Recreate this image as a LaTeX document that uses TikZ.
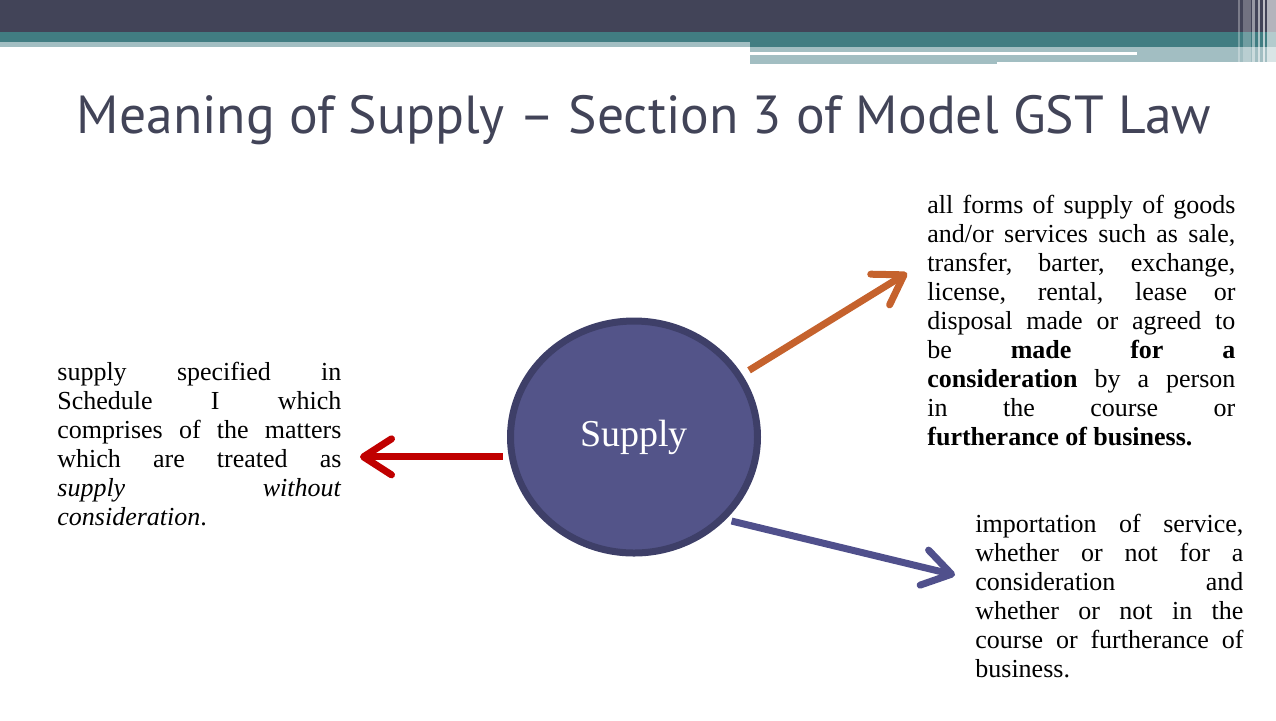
\documentclass[tikz,border=0pt]{standalone}
\usepackage{fontspec}
\setmainfont{Liberation Serif}
\newfontfamily\titlefont{PT Sans}
\usetikzlibrary{positioning,arrows.meta,shapes.geometric}

\definecolor{hdrdark}{HTML}{424458}
\definecolor{hdrteal}{HTML}{417D82}
\definecolor{hdrlight}{HTML}{A2BEC2}
\definecolor{circfill}{HTML}{535489}
\definecolor{circedge}{HTML}{3E3F68}
\definecolor{arrred}{HTML}{C00000}
\definecolor{arrorange}{HTML}{C5622D}
\definecolor{arrblue}{HTML}{50508C}

\begin{document}
\begin{tikzpicture}[
    x=0.5pt, y=-0.5pt,
    para/.style={inner sep=0pt, anchor=base west, align=justify, font=\fontsize{13}{14.5}\selectfont},
    link/.style={line width=3.5pt, -{Straight Barb[length=14pt, width=18pt, line cap=round, line join=round]}}
]
    \useasboundingbox (0,0) rectangle (1276,720);
    % header
    \fill[hdrdark] (0,0) rectangle (1276,32);
    \fill[hdrteal] (0,32) rectangle (1276,42);
    \fill[hdrteal] (750,42) rectangle (1276,47);
    \fill[hdrlight] (0,42) rectangle (750,47);
    \fill[hdrlight] (750,47) rectangle (1276,62);
    \fill[hdrlight] (750,62) rectangle (997,64);
    \fill[white] (750,52) rectangle (1137,55);
    \foreach \a/\b/\o in {1238/1240/0.3, 1243/1251/0.25, 1252/1255/0.45, 1258/1260/0.55, 1263/1265/0.65, 1267/1276/0.6}
        \fill[white, opacity=\o] (\a,0) rectangle (\b,62);

    \node [anchor=base, text=hdrdark, inner sep=0pt, font=\titlefont\fontsize{26.8}{32}\selectfont] (title) at (644,133) {Meaning of Supply – Section 3 of Model GST Law};

    \node [ellipse, draw=circedge, line width=3.5pt, fill=circfill, minimum width=123.5pt, minimum height=116pt,
           text=white, font=\fontsize{19}{22}\selectfont] (supply) at (634,437) {Supply};

    \node [para, text width=142pt] (sched) at (57,380) {supply specified in\linebreak Schedule I which\linebreak comprises of the matters\linebreak which are treated as\linebreak \emph{supply without}\linebreak \emph{consideration}.};
    \node [para, text width=154pt] (forms) at (927,213) {all forms of supply of goods\linebreak and/or services such as sale,\linebreak transfer, barter, exchange,\linebreak license, rental, lease or\linebreak disposal made or agreed to\linebreak be \textbf{made for a}\linebreak \textbf{consideration} by a person\linebreak in the course or\linebreak \textbf{furtherance of business.}};
    \node [para, text width=134pt] (import) at (975,532) {importation of service,\linebreak whether or not for a\linebreak consideration and\linebreak whether or not in the\linebreak course or furtherance of\linebreak business.};

    % arrow tips
    \coordinate (schedtip) at (360,456);
    \coordinate (formstip) at (907,273);
    \coordinate (importtip) at (955,575);

    \draw [link, arrred, shorten <=3pt] (supply.189) -- (supply.189 -| schedtip);
    \draw [link, arrorange, shorten <=4pt] (supply.30) -- (formstip);
    \draw [link, arrblue, shorten <=3pt] (supply.318) -- (importtip);
\end{tikzpicture}
\end{document}
